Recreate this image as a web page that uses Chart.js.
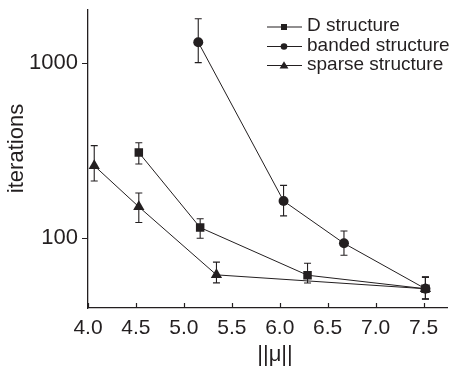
<!DOCTYPE html>
<html>
<head>
<meta charset="utf-8">
<script src="https://cdn.jsdelivr.net/npm/chart.js@4/dist/chart.umd.min.js"></script>
<style>
  html, body { margin: 0; padding: 0; background: #ffffff; }
  #wrap { width: 454px; height: 367px; }
</style>
</head>
<body>
<div id="wrap"><canvas id="c" width="454" height="367"></canvas></div>
<script>
// ---- data ----
const seriesLabels = ['D structure', 'banded structure', 'sparse structure'];

const dX    = [4.53, 5.17, 6.29, 7.52];
const dY    = [308, 115, 61.5, 51.5];
const dLow  = [265, 100, 55.5, 45];
const dHigh = [350, 129, 72, 60];

const bX    = [5.15, 6.04, 6.67, 7.52];
const bY    = [1310, 163, 93.5, 51.5];
const bLow  = [1002, 134, 80, 45];
const bHigh = [1782, 200, 110, 60];

const sX    = [4.065, 4.53, 5.34, 7.52];
const sY    = [259, 151, 61.8, 51.5];
const sLow  = [212, 123, 55.6, 45];
const sHigh = [337, 181, 73, 60];

const yLabelValues = [100, 1000];
const xLabelValues = [4.0, 4.5, 5.0, 5.5, 6.0, 6.5, 7.0, 7.5];
const xTitle = '||μ||';
const yTitle = 'iterations';

const INK = '#231f20';
const FONT = "'Liberation Sans', Arial, Helvetica, sans-serif";

function pts(xs, ys) { return xs.map((x, i) => ({ x: x, y: ys[i] })); }

const errorBars = [
  { low: dLow, high: dHigh },
  { low: bLow, high: bHigh },
  { low: sLow, high: sHigh }
];

// error bars drawn through the chart scales
const errorBarPlugin = {
  id: 'errorBars',
  beforeDatasetsDraw(chart) {
    const ctx = chart.ctx;
    const xs = chart.scales.x, ys = chart.scales.y;
    ctx.save();
    ctx.strokeStyle = INK;
    ctx.lineWidth = 1.1;
    chart.data.datasets.forEach((ds, di) => {
      const eb = errorBars[di];
      ds.data.forEach((p, i) => {
        const px = xs.getPixelForValue(p.x);
        const yl = ys.getPixelForValue(eb.low[i]);
        const yh = ys.getPixelForValue(eb.high[i]);
        const cap = 3.5;
        ctx.beginPath();
        ctx.moveTo(px, yl); ctx.lineTo(px, yh);
        ctx.moveTo(px - cap, yl); ctx.lineTo(px + cap, yl);
        ctx.moveTo(px - cap, yh); ctx.lineTo(px + cap, yh);
        ctx.stroke();
      });
    });
    ctx.restore();
  }
};

// tick marks: y outward (left), x inward (up), major/minor lengths; axis titles
const tickPlugin = {
  id: 'tickMarks',
  afterDraw(chart) {
    const ctx = chart.ctx;
    const xs = chart.scales.x, ys = chart.scales.y;
    const area = chart.chartArea;
    ctx.save();
    ctx.strokeStyle = INK;
    ctx.lineWidth = 1.2;
    ctx.beginPath();
    ys.ticks.forEach(t => {
      const py = Math.round(ys.getPixelForValue(t.value)) + 0.5;
      const major = Math.abs(Math.log10(t.value) - Math.round(Math.log10(t.value))) < 1e-9;
      const len = major ? 6 : 3;
      ctx.moveTo(area.left, py); ctx.lineTo(area.left - len, py);
    });
    xs.ticks.forEach(t => {
      const px = Math.round(xs.getPixelForValue(t.value)) + 0.5;
      const major = Math.abs(t.value * 2 - Math.round(t.value * 2)) < 1e-9;
      const len = major ? 5 : 3;
      ctx.moveTo(px, area.bottom); ctx.lineTo(px, area.bottom - len);
    });
    ctx.stroke();

    // axis titles
    ctx.fillStyle = INK;
    ctx.font = '22px ' + FONT;
    ctx.textAlign = 'center';
    ctx.textBaseline = 'middle';
    ctx.fillText(xTitle, 275, 355);
    ctx.translate(17, 148.5);
    ctx.rotate(-Math.PI / 2);
    ctx.fillText(yTitle, 0, 0);
    ctx.restore();
  }
};

// legend: short line with marker, drawn from the datasets
const legendPlugin = {
  id: 'lineLegend',
  afterDraw(chart) {
    const ctx = chart.ctx;
    const x0 = 267, x1 = 302, xm = 284, tx = 307;
    const rowY = [27, 46.5, 65.5];
    const sizes = { rect: 3, circle: 3.3, triangle: 4.2 };
    ctx.save();
    chart.data.datasets.forEach((ds, i) => {
      const y = rowY[i];
      ctx.strokeStyle = INK;
      ctx.fillStyle = INK;
      ctx.lineWidth = 1.1;
      ctx.beginPath();
      ctx.moveTo(x0, y); ctx.lineTo(x1, y);
      ctx.stroke();
      const r = sizes[ds.pointStyle];
      ctx.beginPath();
      if (ds.pointStyle === 'rect') {
        ctx.rect(xm - r, y - r, 2 * r, 2 * r);
      } else if (ds.pointStyle === 'circle') {
        ctx.arc(xm, y, r, 0, Math.PI * 2);
      } else {
        ctx.moveTo(xm, y - r);
        ctx.lineTo(xm + r * 1.05, y + r * 0.7);
        ctx.lineTo(xm - r * 1.05, y + r * 0.7);
        ctx.closePath();
      }
      ctx.fill();
      ctx.font = '19px ' + FONT;
      ctx.textBaseline = 'alphabetic';
      ctx.textAlign = 'left';
      ctx.fillText(ds.label, tx, y + 4);
    });
    ctx.restore();
  }
};

const baseDs = {
  borderColor: INK,
  backgroundColor: INK,
  borderWidth: 1,
  pointBorderWidth: 0,
  pointBackgroundColor: INK,
  pointBorderColor: INK,
  tension: 0,
  showLine: true,
  fill: false
};

new Chart(document.getElementById('c'), {
  type: 'scatter',
  data: {
    datasets: [
      Object.assign({}, baseDs, { label: seriesLabels[0], data: pts(dX, dY), pointStyle: 'rect', pointRadius: 6, pointHoverRadius: 6 }),
      Object.assign({}, baseDs, { label: seriesLabels[1], data: pts(bX, bY), pointStyle: 'circle', pointRadius: 5, pointHoverRadius: 5 }),
      Object.assign({}, baseDs, { label: seriesLabels[2], data: pts(sX, sY), pointStyle: 'triangle', pointRadius: 6.5, pointHoverRadius: 6.5 })
    ]
  },
  options: {
    responsive: false,
    animation: false,
    layout: { padding: { top: 10, right: 1, left: 0, bottom: 0 } },
    plugins: {
      legend: { display: false },
      tooltip: { enabled: false }
    },
    scales: {
      x: {
        type: 'linear',
        min: 4.0,
        max: 7.75,
        afterFit(scale) {
          scale.height = 59;
          scale.paddingLeft = 0; scale.paddingRight = 0;
        },
        grid: { display: false, drawTicks: false },
        border: { display: true, color: INK, width: 1.3 },
        ticks: {
          stepSize: 0.25,
          padding: 8,
          color: INK,
          font: { family: FONT, size: 21 },
          maxRotation: 0,
          autoSkip: false,
          callback(v) {
            const hit = xLabelValues.find(l => Math.abs(l - v) < 1e-9);
            return hit !== undefined ? hit.toFixed(1) : null;
          }
        },
        title: { display: false }
      },
      y: {
        type: 'logarithmic',
        min: 40,
        max: 2000,
        afterFit(scale) {
          scale.width = 88;
          scale.paddingTop = 0; scale.paddingBottom = 0;
        },
        grid: { display: false, drawTicks: false },
        border: { display: true, color: INK, width: 1.3 },
        ticks: {
          padding: 10,
          color: INK,
          font: { family: FONT, size: 22 },
          autoSkip: false,
          callback(v) {
            return yLabelValues.indexOf(v) >= 0 ? String(v) : null;
          }
        },
        title: { display: false }
      }
    }
  },
  plugins: [errorBarPlugin, tickPlugin, legendPlugin]
});
</script>
</body>
</html>
